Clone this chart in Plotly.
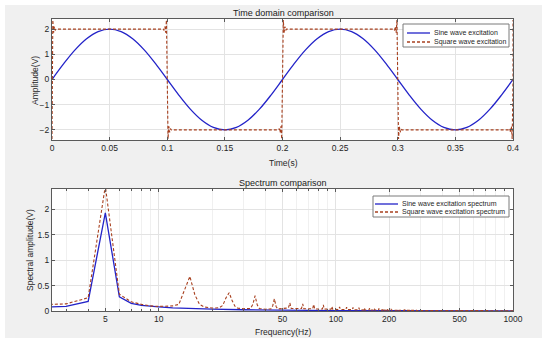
import numpy as np
import plotly.graph_objects as go

# ---------------- data ----------------
time_s = np.round(np.arange(41) * 0.01, 2)
sine_wave = [0, 0.618, 1.176, 1.618, 1.902, 2.0, 1.902, 1.618, 1.176, 0.618,
             0, -0.618, -1.176, -1.618, -1.902, -2.0, -1.902, -1.618, -1.176, -0.618,
             0, 0.618, 1.176, 1.618, 1.902, 2.0, 1.902, 1.618, 1.176, 0.618,
             0, -0.618, -1.176, -1.618, -1.902, -2.0, -1.902, -1.618, -1.176, -0.618, 0]

sq_edges = [0.0, 0.1, 0.2, 0.3, 0.4]
sq_levels = [2, -2, 2, -2, 2]          # level after each edge
ring_dt = [0.0007, 0.0014, 0.0021, 0.0028, 0.0035]
ring_gain = [1.18, 0.93, 1.05, 0.975, 1.0]

sine_freq = [2, 3, 4, 5, 6, 7, 8, 9, 10, 12, 15, 20, 30, 50, 100, 200, 500, 1000]
sine_amp = [0.07, 0.09, 0.19, 1.93, 0.28, 0.15, 0.11, 0.09, 0.08, 0.06, 0.045,
            0.035, 0.025, 0.015, 0.008, 0.005, 0.003, 0.002]

sq_freq = [2, 3, 4, 5, 6, 7, 8, 9, 10, 11, 12, 13, 14, 15, 16, 17, 18, 19, 20, 21,
           22, 23, 24, 25, 26, 27, 28, 30, 33, 34, 35, 36, 37, 40, 43, 44, 45, 46, 47,
           54, 55, 56, 64, 65, 66, 74, 75, 76, 84, 85, 86, 94, 95, 96,
           104, 105, 106, 114, 115, 116, 124, 125, 126, 134, 135, 136,
           144, 145, 146, 154, 155, 156, 164, 165, 166, 174, 175, 176,
           184, 185, 186, 194, 195, 196, 204, 205, 206, 224, 225, 226,
           244, 245, 246, 264, 265, 266, 284, 285, 286, 350, 500, 700, 1000]
sq_amp = [0.12, 0.14, 0.26, 2.46, 0.33, 0.18, 0.13, 0.10, 0.09, 0.09, 0.10, 0.13, 0.40, 0.68,
          0.32, 0.13, 0.08, 0.065, 0.06, 0.06,
          0.065, 0.11, 0.26, 0.36, 0.20, 0.09, 0.055, 0.045, 0.05, 0.13, 0.30, 0.12, 0.05,
          0.035, 0.04, 0.10, 0.24, 0.09, 0.04,
          0.06, 0.16, 0.05, 0.05, 0.14, 0.045, 0.045, 0.13, 0.04, 0.04, 0.12, 0.04,
          0.035, 0.09, 0.035,
          0.03, 0.08, 0.03, 0.03, 0.075, 0.03, 0.025, 0.07, 0.025, 0.025, 0.065, 0.025,
          0.02, 0.06, 0.02, 0.02, 0.055, 0.02, 0.02, 0.05, 0.02, 0.018, 0.05, 0.018,
          0.018, 0.045, 0.018, 0.016, 0.045, 0.016, 0.015, 0.04, 0.015, 0.014, 0.035, 0.014,
          0.013, 0.03, 0.013, 0.012, 0.025, 0.012, 0.011, 0.022, 0.011, 0.01, 0.008, 0.006, 0.005]

x_ticks_time = [0, 0.05, 0.1, 0.15, 0.2, 0.25, 0.3, 0.35, 0.4]
x_ticklabels_time = ["0", "0.05", "0.1", "0.15", "0.2", "0.25", "0.3", "0.35", "0.4"]
y_ticks_time = [-2, -1, 0, 1, 2]
x_ticks_freq = [5, 10, 50, 100, 200, 500, 1000]
x_minor_freq = [3, 4, 6, 7, 8, 9, 20, 30, 40, 60, 70, 80, 90, 300, 400, 600, 700, 800, 900]
y_ticks_freq = [0, 0.5, 1, 1.5, 2]

# build square wave with Gibbs ringing around each edge
sq_t, sq_v = [], []
for i, t0 in enumerate(sq_edges):
    if i > 0:
        prev = sq_levels[i - 1]
        for dt, g in zip(ring_dt[::-1], ring_gain[::-1]):
            sq_t.append(t0 - dt); sq_v.append(prev * g)
        sq_t.append(t0); sq_v.append(0.0)
    else:
        sq_t.append(t0); sq_v.append(-sq_levels[0] * 1.18)
    if i < len(sq_edges) - 1:
        for dt, g in zip(ring_dt, ring_gain):
            sq_t.append(t0 + dt); sq_v.append(sq_levels[i] * g)
    else:
        sq_t.append(t0); sq_v.append(sq_levels[i] * 1.18)

# ---------------- style ----------------
W, H = 550, 346
FONT = "Liberation Sans, Arial, Helvetica, sans-serif"
BLUE = "#2323c8"
RED = "#a8401f"
GRID = "#e3e3e3"
MINOR = "#f0f0f0"
AXC = "#5a5a5a"
TXT = "#262626"

def px(x):
    return x / W

def py(y):
    return 1 - y / H

L, R = 52, 513
T1, B1 = 19, 140
T2, B2 = 189, 311

fig = go.Figure()
fig.add_trace(go.Scatter(x=time_s, y=sine_wave, mode="lines", line=dict(color=BLUE, width=1.3, shape="spline"),
                         name="Sine wave excitation", xaxis="x", yaxis="y", showlegend=False))
fig.add_trace(go.Scatter(x=sq_t, y=sq_v, mode="lines", line=dict(color=RED, width=1.1, dash="3px,2px"),
                         name="Square wave excitation", xaxis="x", yaxis="y", showlegend=False))
fig.add_trace(go.Scatter(x=sine_freq, y=sine_amp, mode="lines", line=dict(color=BLUE, width=1.3),
                         name="Sine wave excitation spectrum", xaxis="x2", yaxis="y2", showlegend=False))
fig.add_trace(go.Scatter(x=sq_freq, y=sq_amp, mode="lines", line=dict(color=RED, width=1.1, dash="3px,2px"),
                         name="Square wave excitation spectrum", xaxis="x2", yaxis="y2", showlegend=False))

axis_common = dict(showline=True, linecolor=AXC, linewidth=1, mirror="allticks", ticks="inside",
                   ticklen=3, tickcolor=AXC, showgrid=True, gridcolor=GRID, gridwidth=1,
                   zeroline=False, automargin=False, tickfont=dict(family=FONT, size=8.5, color=TXT))

fig.update_layout(
    width=W, height=H, margin=dict(l=0, r=0, t=0, b=0, autoexpand=False),
    paper_bgcolor="white", plot_bgcolor="white", showlegend=False,
    font=dict(family=FONT, size=8, color=TXT),
    xaxis=dict(domain=[px(L), px(R)], anchor="y", range=[0, 0.4], tickvals=x_ticks_time,
               ticktext=x_ticklabels_time, **axis_common),
    yaxis=dict(domain=[py(B1), py(T1)], anchor="x", range=[-2.4, 2.4], tickvals=y_ticks_time,
               ticktext=["\u22122", "\u22121", "0", "1", "2"], **axis_common),
    xaxis2=dict(domain=[px(L), px(R)], anchor="y2", type="log", range=[np.log10(2.5), 3],
                tickvals=x_ticks_freq, ticktext=[str(v) for v in x_ticks_freq],
                minor=dict(tickvals=x_minor_freq, showgrid=True, gridcolor=MINOR, ticks="inside",
                           ticklen=2, tickcolor=AXC),
                **axis_common),
    yaxis2=dict(domain=[py(B2), py(T2)], anchor="x2", range=[0, 2.4], tickvals=y_ticks_freq,
                ticktext=["0", "0.5", "1", "1.5", "2"], **axis_common),
)

shapes = [
    dict(type="rect", xref="paper", yref="paper", x0=px(5), x1=px(542), y0=py(338), y1=py(5),
         fillcolor="#f0f0f0", line=dict(width=0), layer="below"),
    dict(type="rect", xref="paper", yref="paper", x0=px(L), x1=px(R), y0=py(B1), y1=py(T1),
         fillcolor="white", line=dict(width=0), layer="below"),
    dict(type="rect", xref="paper", yref="paper", x0=px(L), x1=px(R), y0=py(B2), y1=py(T2),
         fillcolor="white", line=dict(width=0), layer="below"),
]

annotations = [
    dict(text="Time domain comparison", x=px(283), y=py(13), xref="paper", yref="paper",
         showarrow=False, font=dict(size=9, color="#1a1a1a"), xanchor="center", yanchor="middle"),
    dict(text="Spectrum comparison", x=px(283), y=py(183), xref="paper", yref="paper",
         showarrow=False, font=dict(size=9, color="#1a1a1a"), xanchor="center", yanchor="middle"),
    dict(text="Time(s)", x=px(283), y=py(163), xref="paper", yref="paper",
         showarrow=False, font=dict(size=8.5, color=TXT), xanchor="center", yanchor="middle"),
    dict(text="Frequency(Hz)", x=px(283), y=py(332), xref="paper", yref="paper",
         showarrow=False, font=dict(size=8.5, color=TXT), xanchor="center", yanchor="middle"),
    dict(text="Amplitude(V)", x=px(35), y=py(80), xref="paper", yref="paper", textangle=-90,
         showarrow=False, font=dict(size=8.5, color=TXT), xanchor="center", yanchor="middle"),
    dict(text="Spectral amplitude(V)", x=px(30), y=py(250), xref="paper", yref="paper", textangle=-90,
         showarrow=False, font=dict(size=8.5, color=TXT), xanchor="center", yanchor="middle"),
]

# manual legends
legends = [
    dict(box=(403, 509, 24, 47), rows=[(33, "Sine wave excitation", BLUE, "solid"),
                                        (42, "Square wave excitation", RED, "3px,2px")],
         line_x=(407, 430), text_x=432),
    dict(box=(373, 509, 196, 217), rows=[(204, "Sine wave excitation spectrum", BLUE, "solid"),
                                          (212, "Square wave excitation spectrum", RED, "3px,2px")],
         line_x=(375, 398), text_x=400),
]
for lg in legends:
    x0, x1, y0, y1 = lg["box"]
    shapes.append(dict(type="rect", xref="paper", yref="paper", x0=px(x0), x1=px(x1), y0=py(y1), y1=py(y0),
                       fillcolor="white", line=dict(color="#7a7a7a", width=1), layer="above"))
    for yy, label, col, dash in lg["rows"]:
        shapes.append(dict(type="line", xref="paper", yref="paper", x0=px(lg["line_x"][0]), x1=px(lg["line_x"][1]),
                           y0=py(yy), y1=py(yy), line=dict(color=col, width=1.3, dash=dash), layer="above"))
        annotations.append(dict(text=label, x=px(lg["text_x"]), y=py(yy), xref="paper", yref="paper",
                                showarrow=False, font=dict(size=7.0, color=TXT), xanchor="left", yanchor="middle"))

fig.update_layout(shapes=shapes, annotations=annotations)
fig.write_html("out.html", config={"displayModeBar": False},
               post_script="document.body.style.margin='0';")
